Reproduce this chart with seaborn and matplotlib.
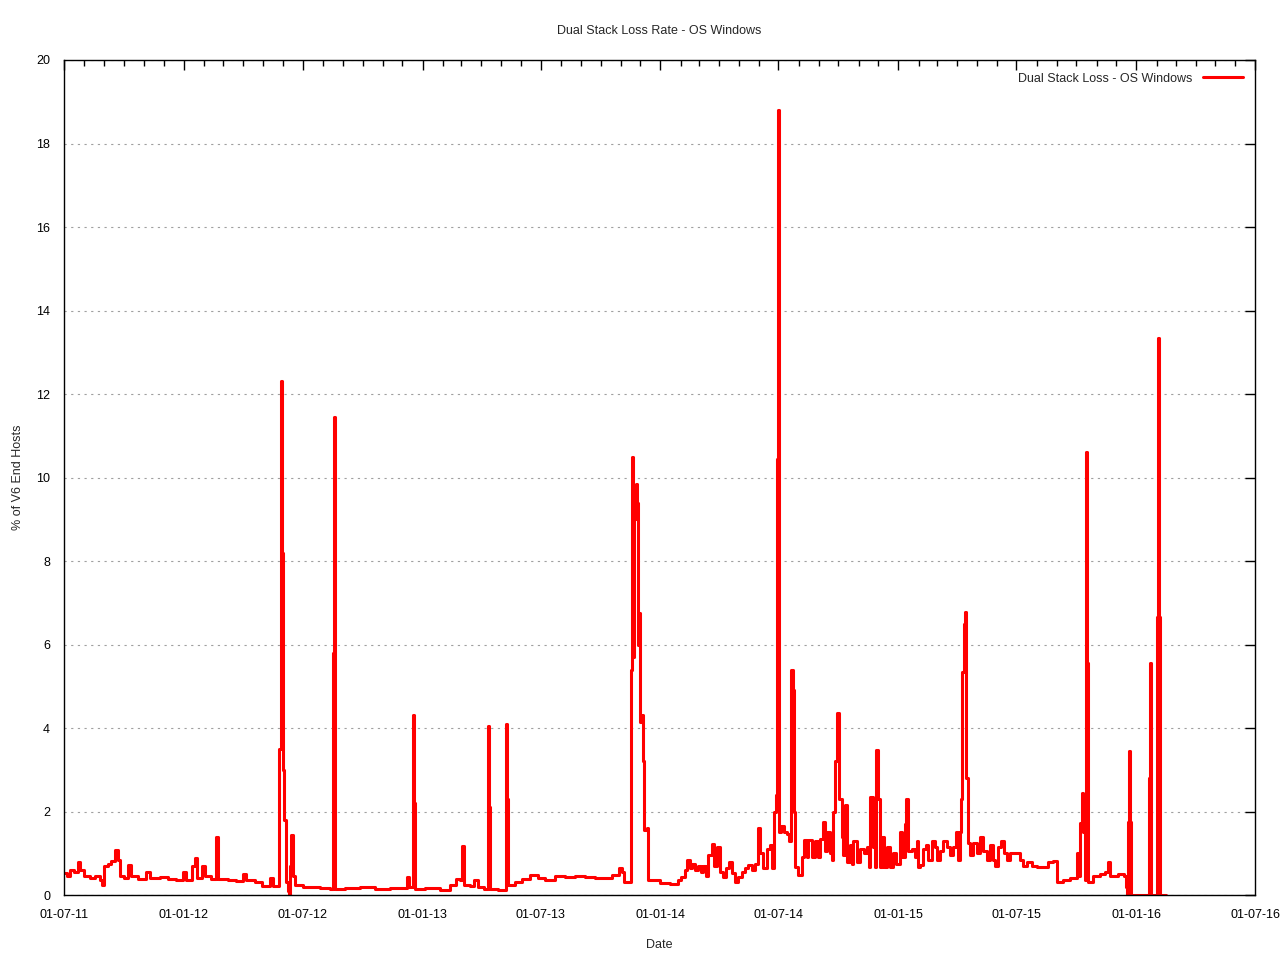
import matplotlib
matplotlib.use("Agg")
import matplotlib.pyplot as plt
import matplotlib.dates as mdates
import seaborn as sns
import pandas as pd

# values (dd-mm-yy axis, % of v6 end hosts)
dates = [
    "2011-07-01", "2011-07-06", "2011-07-10", "2011-07-16", "2011-07-22", "2011-07-26", "2011-08-01", "2011-08-10",
    "2011-08-18", "2011-08-25", "2011-08-28", "2011-08-31", "2011-09-06", "2011-09-11", "2011-09-17", "2011-09-22",
    "2011-09-25", "2011-10-01", "2011-10-07", "2011-10-12", "2011-10-23", "2011-11-04", "2011-11-10", "2011-11-25",
    "2011-12-08", "2011-12-20", "2011-12-31", "2012-01-04", "2012-01-13", "2012-01-18", "2012-01-21", "2012-01-29",
    "2012-02-02", "2012-02-11", "2012-02-19", "2012-02-22", "2012-03-09", "2012-03-21", "2012-04-01", "2012-04-05",
    "2012-04-19", "2012-04-30", "2012-05-12", "2012-05-17", "2012-05-26", "2012-05-29", "2012-05-30", "2012-06-01",
    "2012-06-02", "2012-06-05", "2012-06-08", "2012-06-10", "2012-06-12", "2012-06-13", "2012-06-16", "2012-06-19",
    "2012-07-01", "2012-07-12", "2012-07-28", "2012-08-12", "2012-08-17", "2012-08-18", "2012-08-20", "2012-09-04",
    "2012-09-27", "2012-10-20", "2012-11-12", "2012-11-27", "2012-12-08", "2012-12-11", "2012-12-17", "2012-12-19",
    "2012-12-20", "2013-01-05", "2013-01-28", "2013-02-12", "2013-02-21", "2013-02-27", "2013-03-03", "2013-03-05",
    "2013-03-15", "2013-03-21", "2013-03-27", "2013-04-05", "2013-04-11", "2013-04-13", "2013-04-14", "2013-04-27",
    "2013-05-09", "2013-05-11", "2013-05-12", "2013-05-23", "2013-06-03", "2013-06-15", "2013-06-27", "2013-07-08",
    "2013-07-23", "2013-08-08", "2013-08-23", "2013-09-07", "2013-09-23", "2013-10-08", "2013-10-19", "2013-10-29",
    "2013-11-03", "2013-11-06", "2013-11-16", "2013-11-18", "2013-11-20", "2013-11-21", "2013-11-24", "2013-11-26",
    "2013-11-27", "2013-11-29", "2013-12-01", "2013-12-04", "2013-12-05", "2013-12-07", "2013-12-11", "2013-12-13",
    "2013-12-31", "2014-01-16", "2014-01-23", "2014-01-28", "2014-02-01", "2014-02-07", "2014-02-11", "2014-02-15",
    "2014-02-18", "2014-02-23", "2014-02-28", "2014-03-04", "2014-03-07", "2014-03-12", "2014-03-15", "2014-03-21",
    "2014-03-24", "2014-03-29", "2014-04-02", "2014-04-07", "2014-04-12", "2014-04-16", "2014-04-21", "2014-04-25",
    "2014-04-30", "2014-05-06", "2014-05-11", "2014-05-15", "2014-05-21", "2014-05-26", "2014-05-31", "2014-06-03",
    "2014-06-07", "2014-06-13", "2014-06-18", "2014-06-21", "2014-06-24", "2014-06-27", "2014-06-29", "2014-06-30",
    "2014-07-02", "2014-07-05", "2014-07-09", "2014-07-14", "2014-07-17", "2014-07-20", "2014-07-23", "2014-07-25",
    "2014-07-26", "2014-07-31", "2014-08-06", "2014-08-09", "2014-08-14", "2014-08-16", "2014-08-21", "2014-08-26",
    "2014-08-31", "2014-09-03", "2014-09-07", "2014-09-10", "2014-09-13", "2014-09-18", "2014-09-21", "2014-09-23",
    "2014-09-26", "2014-09-29", "2014-10-02", "2014-10-06", "2014-10-08", "2014-10-11", "2014-10-14", "2014-10-19",
    "2014-10-22", "2014-10-24", "2014-10-29", "2014-11-03", "2014-11-09", "2014-11-14", "2014-11-17", "2014-11-18",
    "2014-11-23", "2014-11-26", "2014-11-28", "2014-12-01", "2014-12-03", "2014-12-07", "2014-12-10", "2014-12-14",
    "2014-12-19", "2014-12-24", "2014-12-28", "2015-01-03", "2015-01-07", "2015-01-11", "2015-01-13", "2015-01-16",
    "2015-01-22", "2015-01-26", "2015-01-29", "2015-01-31", "2015-02-03", "2015-02-08", "2015-02-12", "2015-02-15",
    "2015-02-21", "2015-02-26", "2015-03-01", "2015-03-06", "2015-03-10", "2015-03-17", "2015-03-21", "2015-03-26",
    "2015-03-31", "2015-04-02", "2015-04-05", "2015-04-07", "2015-04-09", "2015-04-12", "2015-04-13", "2015-04-15",
    "2015-04-17", "2015-04-21", "2015-04-25", "2015-05-02", "2015-05-06", "2015-05-11", "2015-05-17", "2015-05-21",
    "2015-05-26", "2015-05-29", "2015-06-03", "2015-06-07", "2015-06-12", "2015-06-17", "2015-06-21", "2015-06-29",
    "2015-07-06", "2015-07-11", "2015-07-17", "2015-07-25", "2015-08-02", "2015-08-11", "2015-08-18", "2015-08-26",
    "2015-09-01", "2015-09-10", "2015-09-21", "2015-10-02", "2015-10-05", "2015-10-06", "2015-10-10", "2015-10-11",
    "2015-10-14", "2015-10-16", "2015-10-17", "2015-10-19", "2015-10-26", "2015-11-06", "2015-11-14", "2015-11-18",
    "2015-11-22", "2015-12-04", "2015-12-13", "2015-12-16", "2015-12-18", "2015-12-19", "2015-12-21", "2015-12-22",
    "2015-12-24", "2016-01-20", "2016-01-22", "2016-01-23", "2016-02-02", "2016-02-03", "2016-02-05", "2016-02-06",
    "2016-02-16",
]
loss = [
    0.52, 0.45, 0.60, 0.55, 0.80, 0.60, 0.45, 0.40,
    0.45, 0.35, 0.24, 0.70, 0.75, 0.82, 1.08, 0.85,
    0.45, 0.40, 0.72, 0.45, 0.38, 0.55, 0.40, 0.42,
    0.38, 0.36, 0.55, 0.35, 0.70, 0.89, 0.40, 0.70,
    0.45, 0.38, 1.39, 0.38, 0.35, 0.33, 0.50, 0.36,
    0.30, 0.22, 0.40, 0.22, 3.50, 12.3, 8.20, 3.00,
    1.80, 0.30, 0.10, 0.00, 0.70, 1.43, 0.45, 0.25,
    0.20, 0.18, 0.17, 0.15, 5.80, 11.45, 0.15, 0.17,
    0.18, 0.15, 0.16, 0.17, 0.43, 0.18, 4.30, 2.20,
    0.15, 0.16, 0.13, 0.25, 0.38, 0.35, 1.17, 0.25,
    0.22, 0.36, 0.20, 0.15, 4.05, 2.10, 0.15, 0.13,
    4.10, 2.30, 0.25, 0.32, 0.38, 0.48, 0.40, 0.36,
    0.45, 0.42, 0.45, 0.43, 0.40, 0.40, 0.47, 0.64,
    0.55, 0.30, 5.40, 10.5, 5.70, 9.00, 9.85, 9.40,
    6.00, 6.75, 4.15, 4.30, 3.20, 1.55, 1.60, 0.36,
    0.28, 0.27, 0.26, 0.36, 0.43, 0.60, 0.85, 0.65,
    0.75, 0.60, 0.70, 0.55, 0.70, 0.45, 0.95, 1.22,
    0.70, 1.15, 0.55, 0.43, 0.65, 0.80, 0.52, 0.30,
    0.43, 0.55, 0.65, 0.72, 0.60, 0.75, 1.60, 1.00,
    0.65, 1.10, 1.20, 0.65, 2.00, 2.40, 10.45, 18.8,
    1.50, 1.65, 1.50, 1.45, 1.30, 5.40, 4.90, 2.00,
    0.67, 0.48, 0.90, 1.32, 0.90, 1.32, 0.90, 1.30,
    0.90, 1.35, 1.75, 1.05, 1.50, 1.00, 0.85, 2.00,
    3.20, 4.35, 2.30, 1.40, 0.95, 2.15, 0.80, 1.20,
    0.75, 1.30, 0.80, 1.10, 1.00, 1.15, 0.67, 2.35,
    1.15, 0.67, 3.47, 2.30, 0.67, 1.40, 0.67, 1.15,
    0.67, 1.00, 0.75, 1.50, 0.90, 1.70, 2.30, 1.05,
    1.10, 0.90, 1.30, 0.67, 0.72, 1.10, 1.20, 0.85,
    1.30, 1.15, 0.85, 1.05, 1.30, 1.15, 0.95, 1.15,
    1.50, 0.85, 1.50, 2.30, 5.35, 6.50, 6.78, 2.80,
    1.25, 0.95, 1.25, 1.00, 1.40, 1.05, 0.85, 1.20,
    0.85, 0.70, 1.15, 1.30, 1.00, 0.85, 1.00, 1.00,
    0.85, 0.70, 0.80, 0.70, 0.68, 0.68, 0.80, 0.82,
    0.30, 0.35, 0.40, 1.00, 0.45, 1.73, 2.44, 1.50,
    0.35, 10.6, 5.55, 0.30, 0.45, 0.50, 0.55, 0.80,
    0.45, 0.50, 0.45, 0.20, 0.00, 1.75, 3.45, 1.75,
    0.00, 2.80, 5.55, 0.00, 6.65, 13.35, 6.65, 0.00,
    0.00,
]

df = pd.DataFrame({"Date": pd.to_datetime(dates), "Loss": loss})

sns.set_style("white")
plt.rcParams["font.family"] = ["Liberation Sans", "DejaVu Sans"]

fig = plt.figure(figsize=(12.8, 9.6), dpi=100)
ax = fig.add_axes([0.05, 0.0677, 0.9305, 0.8698])

sns.lineplot(data=df, x="Date", y="Loss", ax=ax, color="#ff0000", linewidth=2.2,
             drawstyle="steps-post", estimator=None, label="Dual Stack Loss - OS Windows")

ax.set_xlim(pd.Timestamp("2011-07-01"), pd.Timestamp("2016-07-01"))
ax.set_ylim(0, 20)
ax.set_yticks(range(0, 21, 2))
ax.xaxis.set_major_locator(mdates.MonthLocator(bymonth=[1, 7]))
ax.xaxis.set_minor_locator(mdates.MonthLocator())
ax.xaxis.set_major_formatter(mdates.DateFormatter("%d-%m-%y"))

ax.yaxis.grid(True, linestyle=(0, (2, 4)), color="#a0a0a0", linewidth=0.8)
ax.xaxis.grid(False)
for s in ax.spines.values():
    s.set_color("black")
    s.set_linewidth(1.0)
ax.tick_params(which="both", direction="in", top=True, right=True, colors="black",
               labelsize=9)
ax.tick_params(which="major", length=7, width=1, pad=10)
ax.tick_params(which="minor", length=4, width=1)

ax.set_title("Dual Stack Loss Rate - OS Windows", fontsize=9, pad=19)
ax.set_xlabel("Date", fontsize=9, labelpad=13)
ax.set_ylabel("% of V6 End Hosts", fontsize=9, labelpad=9)

ax.legend(loc="upper right", frameon=False, markerfirst=False, fontsize=9,
          handlelength=3.2, borderaxespad=0.6)

fig.savefig("out.png", dpi=100)
